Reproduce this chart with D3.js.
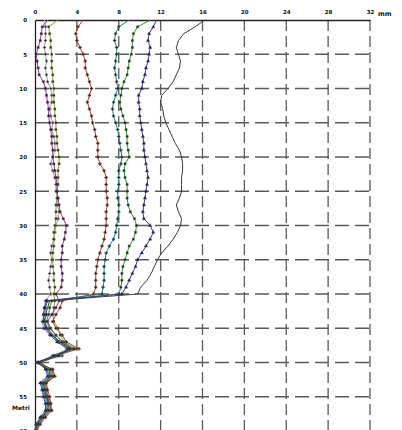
<!DOCTYPE html>
<html>
<head>
<meta charset="utf-8">
<style>
    body { margin: 0; background: #fff; }
    text { font-family: "DejaVu Sans", sans-serif; font-weight: bold; fill: #111; }
</style>
</head>
<body>
<svg id="container" width="402" height="430"></svg>
<script src="https://cdn.jsdelivr.net/npm/d3@7"></script>
<script>
    // depth in metres, one reading per metre
    let depths = [0,1,2,3,4,5,6,7,8,9,10,11,12,13,14,15,16,17,18,19,20,
        21,22,23,24,25,26,27,28,29,30,31,32,33,34,35,36,37,38,39,40,
        41,42,43,44,45,46,47,48,49,50,51,52,53,54,55,56,57,58,59,60]

    // displacement readings (mm) for each survey
    let purple = [1.2,0.7,0.6,0.5,0.3,0.1,0.2,0.3,0.4,0.8,1.0,1.1,1.2,1.3,1.3,1.4,1.5,1.6,1.6,1.7,1.7,
        1.8,1.9,2.0,2.1,2.1,2.2,2.3,2.4,2.7,3.0,2.9,2.8,2.6,2.6,2.5,2.5,2.6,2.6,2.5,2.0,
        2.3,2.0,1.6,1.2,1.5,2.0,2.6,3.6,1.8,0.4,1.6,1.8,1.0,1.1,1.2,1.4,1.5,0.9,0.4,0.1]
    let olive = [2.2,1.3,1.4,1.5,1.5,1.6,1.6,1.6,1.7,1.7,1.8,1.8,1.8,1.9,1.9,2.0,2.0,2.1,2.1,2.2,2.3,
        2.3,2.2,2.2,2.2,2.1,2.1,2.0,2.0,2.0,1.9,1.8,1.8,1.8,1.7,1.7,1.7,1.8,1.8,1.9,1.8,
        1.9,1.8,1.7,1.8,2.2,2.4,2.8,3.9,2.2,0.6,1.4,1.6,0.9,1.0,1.3,1.5,1.4,0.8,0.3,0.1]
    let grey = [0.9,1.0,1.0,1.0,0.9,1.0,1.1,1.0,1.1,1.2,1.5,1.6,1.6,1.4,1.5,1.7,1.6,1.8,1.9,1.9,1.7,
        1.5,1.7,1.9,2.0,2.0,2.2,2.1,2.3,2.2,2.0,1.9,1.8,1.6,1.5,1.6,1.5,1.4,1.3,1.4,1.5,
        1.0,0.9,0.9,0.7,0.8,1.4,2.2,3.0,2.6,0.3,1.2,1.3,0.6,0.7,0.9,1.1,1.2,0.6,0.2,0.0]
    let red = [4.6,4.1,3.9,4.0,4.3,4.6,4.8,4.8,5.0,5.2,5.4,5.2,5.0,5.2,5.4,5.5,5.7,5.8,6.0,6.0,6.0,
        6.2,6.6,6.8,6.8,6.8,6.9,6.9,6.8,6.8,6.8,6.7,6.6,6.4,6.2,6.0,5.9,5.8,5.8,5.8,5.6,
        2.6,2.4,2.0,1.7,2.0,2.6,3.0,4.2,1.9,0.2,1.7,1.9,1.1,1.2,1.4,1.5,1.6,1.0,0.5,0.2]
    let teal = [9.0,8.0,7.7,7.6,7.8,7.8,7.7,7.6,7.7,7.8,7.9,7.7,7.5,7.4,7.5,7.7,7.9,8.0,8.1,8.2,8.3,
        8.2,8.0,8.0,8.0,7.9,7.9,8.0,8.0,7.9,7.8,7.7,7.5,7.1,6.8,6.7,6.6,6.6,6.6,6.5,6.4,
        1.2,1.0,1.1,0.9,1.1,1.6,2.3,3.3,1.7,0.3,1.1,1.4,0.7,0.8,1.0,1.2,1.1,0.6,0.2,0.0]
    let green = [11.0,9.8,9.4,9.3,9.3,9.2,9.0,8.9,8.8,8.5,8.3,8.2,8.1,8.2,8.4,8.6,8.7,8.8,8.8,8.9,9.0,
        8.6,8.5,8.6,8.8,8.8,8.8,8.9,9.1,9.5,9.7,9.6,9.4,9.0,8.8,8.6,8.4,8.3,8.3,8.2,8.0,
        1.6,1.4,1.3,1.1,1.4,2.0,2.6,3.7,1.9,0.2,1.5,1.7,0.9,1.0,1.1,1.4,1.3,0.8,0.3,0.1]
    let blue = [11.6,11.3,10.9,10.8,11.0,10.9,10.8,10.6,10.5,10.3,10.2,9.9,9.9,10.0,10.0,10.1,10.2,10.3,10.4,10.4,10.5,
        10.6,10.7,10.8,10.7,10.6,10.5,10.4,10.3,10.4,11.0,11.3,11.0,10.6,10.2,9.8,9.6,9.3,9.0,8.7,8.3,
        1.1,0.9,0.8,0.8,1.0,1.5,2.1,3.2,2.3,0.3,1.0,1.2,0.5,0.7,0.8,1.0,1.0,0.5,0.1,0.0]
    let dark = [16.2,15.3,14.2,13.7,13.5,13.7,13.9,13.8,13.5,13.2,12.7,12.1,12.0,12.2,12.3,12.5,12.8,13.1,13.4,13.8,14.0,
        14.1,14.1,14.0,14.0,14.0,13.8,13.5,13.7,14.0,13.9,13.6,13.2,12.7,12.1,11.7,11.4,11.1,10.7,10.1,9.8,
        1.4,1.2,1.0,0.9,1.2,1.7,2.4,3.5,2.0,0.1,1.3,1.5,0.8,0.9,1.1,1.3,1.2,0.7,0.2,0.0]

    let xTicks = [0,4,8,12,16,20,24,28,32]
    let yTicks = [0,5,10,15,20,25,30,35,40,45,50,55,60]

    // list of surveys with colours, the dark one has no markers
    let series = [
        {values: grey,   color: "#a89aa4", symbol: d3.symbolCross,    marks: true},
        {values: olive,  color: "#8f9a3c", symbol: d3.symbolSquare,   marks: true},
        {values: purple, color: "#8c3f8e", symbol: d3.symbolSquare,   marks: true},
        {values: red,    color: "#a0443c", symbol: d3.symbolCross,    marks: true},
        {values: teal,   color: "#2e7f7a", symbol: d3.symbolCross,    marks: true},
        {values: green,  color: "#3f8a3a", symbol: d3.symbolSquare,   marks: true},
        {values: blue,   color: "#3a3f9a", symbol: d3.symbolTriangle, marks: true},
        {values: dark,   color: "#3a3a3a", symbol: null,              marks: false}
    ]

    let svg = d3.select("#container")
    let mLeft = 35, mTop = 20, mRight = 370, mBottom = 431

    let x = d3.scaleLinear().domain([0, 32]).range([mLeft, mRight])
    let y = d3.scaleLinear().domain([0, 60]).range([mTop, mBottom])

    // dashed grid
    let grid = svg.append("g")
    grid.selectAll("line.v")
        .data(xTicks.filter(d => d > 0))
        .enter().append("line")
        .attr("x1", d => x(d)).attr("x2", d => x(d))
        .attr("y1", mTop).attr("y2", mBottom)
        .attr("stroke", "#5a5a5a")
        .attr("stroke-width", 1.3)
        .attr("stroke-dasharray", "11,5")
    grid.selectAll("line.h")
        .data(yTicks.filter(d => d > 0))
        .enter().append("line")
        .attr("x1", mLeft).attr("x2", mRight)
        .attr("y1", d => y(d)).attr("y2", d => y(d))
        .attr("stroke", "#5a5a5a")
        .attr("stroke-width", 1.3)
        .attr("stroke-dasharray", "14,6")

    // axes along the top and left
    let xAxis = d3.axisTop(x).tickValues(xTicks).tickSize(0).tickPadding(6)
    svg.append("g")
        .attr("transform", "translate(0," + mTop + ")")
        .call(xAxis)
        .call(g => g.select(".domain").attr("stroke", "#222").attr("stroke-width", 1.3))
        .selectAll("text").style("font-size", "5.5px").style("font-family", "DejaVu Sans").style("font-weight", "bold")

    let yAxis = d3.axisLeft(y).tickValues(yTicks).tickSize(0).tickPadding(8)
    svg.append("g")
        .attr("transform", "translate(" + mLeft + ",0)")
        .call(yAxis)
        .call(g => g.select(".domain").attr("stroke", "#222").attr("stroke-width", 1.3))
        .selectAll("text").style("font-size", "5.5px").style("font-family", "DejaVu Sans").style("font-weight", "bold")

    svg.append("text").attr("x", 378).attr("y", 16)
        .style("font-size", "6.5px").text("mm")
    svg.append("text").attr("x", 12).attr("y", 410)
        .style("font-size", "6px").text("Metri")

    // draw each profile
    let line = d3.line()
        .x(d => x(d[1]))
        .y(d => y(d[0]))

    series.forEach(s => {
        let pts = depths.map((d, i) => [d, s.values[i]])
        svg.append("path")
            .datum(pts)
            .attr("fill", "none")
            .attr("stroke", s.color)
            .attr("stroke-width", 1)
            .attr("d", line)
        if (s.marks) {
            svg.append("g").selectAll("path")
                .data(pts.slice(1))
                .enter().append("path")
                .attr("d", d3.symbol().type(s.symbol).size(5))
                .attr("transform", d => "translate(" + x(d[1]) + "," + y(d[0]) + ")")
                .attr("fill", "#222")
                .attr("stroke", s.color)
                .attr("stroke-width", 0.4)
        }
    })
</script>
</body>
</html>
